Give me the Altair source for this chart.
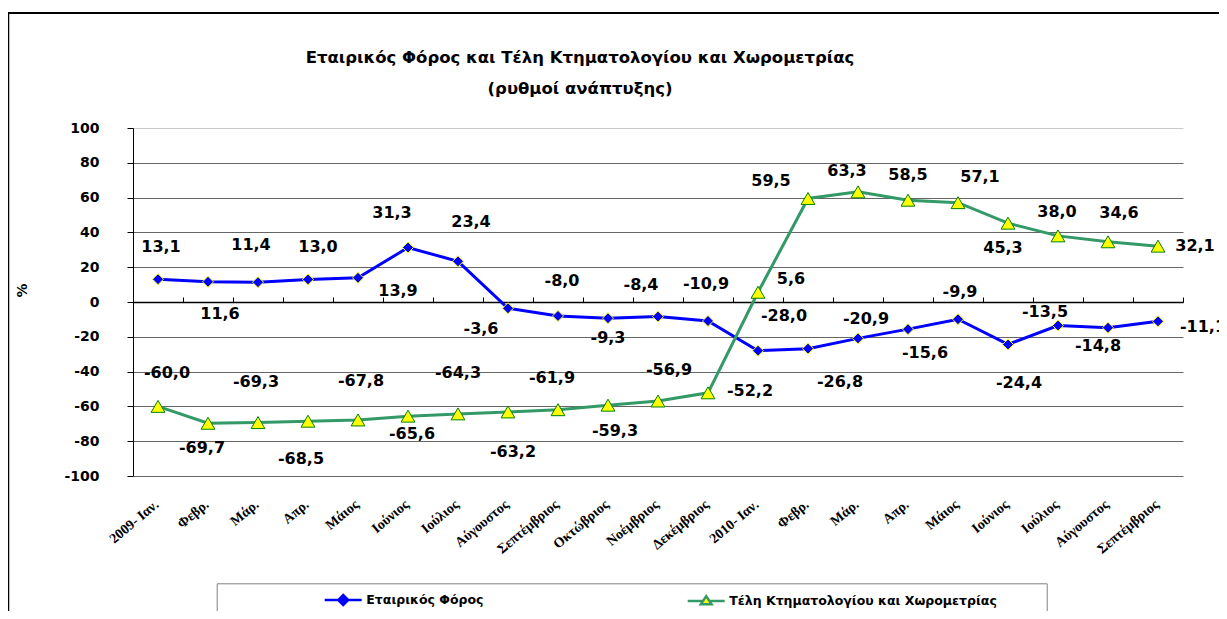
import json
import altair as alt
import pandas as pd

# ---------------- data ----------------
months = ["2009- Ιαν.", "Φεβρ.", "Μάρ.", "Απρ.", "Μάιος", "Ιούνιος", "Ιούλιος",
          "Αύγουστος", "Σεπτέμβριος", "Οκτώβριος", "Νοέμβριος", "Δεκέμβριος",
          "2010- Ιαν.", "Φεβρ.", "Μάρ.", "Απρ.", "Μάιος", "Ιούνιος", "Ιούλιος",
          "Αύγουστος", "Σεπτέμβριος"]
corp_tax = [13.1, 11.6, 11.4, 13.0, 13.9, 31.3, 23.4, -3.6, -8.0, -9.3, -8.4, -10.9,
            -28.0, -26.8, -20.9, -15.6, -9.9, -24.4, -13.5, -14.8, -11.1]
land_fees = [-60.0, -69.7, -69.3, -68.5, -67.8, -65.6, -64.3, -63.2, -61.9, -59.3, -56.9,
             -52.2, 5.6, 59.5, 63.3, 58.5, 57.1, 45.3, 38.0, 34.6, 32.1]
series_names = ["Εταιρικός Φόρος", "Τέλη Κτηματολογίου και Χωρομετρίας"]
y_ticks = [-100, -80, -60, -40, -20, 0, 20, 40, 60, 80, 100]

# label placement (pixel offsets of each value label from its marker)
corp_lbl_dx = [3, 12, -7, 10, 40, -16, 13, -27, 4, 0, -17, -2, 26, 32, 8, 17, 2, 11, -13, -10, 45]
corp_lbl_dy = [-32, 32, -37, -32, 13, -35, -39, 21, -35, 20, -32, -37, -35, 33, -19, 24, -27, 39, -13, 18, 6]
land_lbl_dx = [9, -6, -2, -7, 3, 4, 0, 5, -6, 7, 11, 42, 33, -37, -11, 0, 22, -5, -1, 11, 37]
land_lbl_dy = [-33, 25, -41, 38, -39, 18, -41, 40, -32, 26, -31, -2, -13, -17, -21, -25, -26, 25, -24, -29, 0]

# ---------------- layout ----------------
W, H = 1050, 348
BLUE, GREEN, YELLOW = "#0000FF", "#339966", "#FFFF00"

rows = []
for name, vals, dxs, dys in [(series_names[0], corp_tax, corp_lbl_dx, corp_lbl_dy),
                             (series_names[1], land_fees, land_lbl_dx, land_lbl_dy)]:
    for i, v in enumerate(vals):
        rows.append({"idx": i, "value": v, "series": name,
                     "label": f"{v:.1f}".replace(".", ","), "dx": dxs[i], "dy": dys[i]})
df = pd.DataFrame(rows)

n = len(months)
x_scale = alt.Scale(domain=[-0.5, n - 0.5], nice=False, zero=False)
y_scale = alt.Scale(domain=[-100, 100], nice=False, zero=False)

month_expr = json.dumps(months, ensure_ascii=False) + "[datum.value]"

main_x_axis = alt.Axis(values=list(range(n)), labelExpr=month_expr, labelAngle=-40,
                       labelAlign="right", labelBaseline="top",
                       labelFont="Liberation Serif", labelFontWeight="bold",
                       labelFontSize=14, labelColor="black", labelPadding=21,
                       labelOffset=-6,
                       ticks=False, domain=False, grid=False, title=None,
                       labelOverlap=False, labelFlush=False, labelBound=False)

zero_x_axis = alt.Axis(values=[i - 0.5 for i in range(n + 1)], labels=False,
                       ticks=True, tickSize=5, tickColor="black", tickWidth=1,
                       domain=True, domainColor="black", domainWidth=1.5,
                       grid=False, title=None, offset=-H / 2)

y_axis = alt.Axis(values=y_ticks, labelExpr="'' + datum.value",
                  labelFont="DejaVu Sans", labelFontWeight="bold",
                  labelFontSize=14, labelColor="black", labelPadding=28,
                  tickSize=6, tickColor="black", domainColor="black",
                  grid=True, gridWidth=1,
                  gridColor={"condition": {"test": "datum.value === 100", "value": "#c8c8c8"},
                             "value": "#666666"},
                  title="%", titleFont="DejaVu Sans", titleFontWeight="bold",
                  titleFontSize=14, titleColor="black", titleX=-104, titleY=162)

base = alt.Chart(df)
s0 = f"datum.series === '{series_names[0]}'"
s1 = f"datum.series === '{series_names[1]}'"

blue_line = base.transform_filter(s0).mark_line(color=BLUE, strokeWidth=3).encode(
    x=alt.X("idx:Q", scale=x_scale, axis=main_x_axis),
    y=alt.Y("value:Q", scale=y_scale, axis=y_axis))
green_line = base.transform_filter(s1).mark_line(color=GREEN, strokeWidth=3).encode(
    x=alt.X("idx:Q", scale=x_scale, axis=None),
    y=alt.Y("value:Q", scale=y_scale, axis=y_axis))
blue_pts = base.transform_filter(s0).mark_point(
    shape="diamond", filled=True, fill=BLUE, stroke=YELLOW, strokeWidth=1,
    size=121, opacity=1).encode(
    x=alt.X("idx:Q", scale=x_scale, axis=None),
    y=alt.Y("value:Q", scale=y_scale, axis=y_axis))
green_pts = base.transform_filter(s1).mark_point(
    shape="triangle-up", filled=True, fill=YELLOW, stroke="#008000", strokeWidth=1,
    size=190, opacity=1).encode(
    x=alt.X("idx:Q", scale=x_scale, axis=None),
    y=alt.Y("value:Q", scale=y_scale, axis=y_axis))

labels = base.transform_calculate(
    lx=f"datum.idx + datum.dx * {n / W}",
    ly=f"datum.value - datum.dy * {200 / H}").mark_text(
    font="DejaVu Sans", fontWeight="bold", fontSize=16, color="black",
    align="center", baseline="middle").encode(
    x=alt.X("lx:Q", scale=x_scale, axis=zero_x_axis),
    y=alt.Y("ly:Q", scale=y_scale, axis=y_axis),
    text="label:N")

# legend (symbols: line + marker)
diamond_path = "M-3.7,0H3.7M-1,0L0,-1L1,0L0,1Z"
triangle_path = "M-3.7,0H-0.64M0.64,0H3.7M0,-0.95L1.07,0.65L-1.07,0.65Z"
blank_pad = "\u2800" * 4
legend = alt.Legend(orient="none", legendX=83.7, legendY=455.3, direction="horizontal",
                    title="\u00a0", titleOrient="left", titlePadding=110,
                    padding=10, strokeColor="#808080", fillColor="white",
                    labelFont="DejaVu Sans", labelFontWeight="bold", labelFontSize=12.5,
                    labelColor="black", labelLimit=600, labelOffset=16.6,
                    labelExpr=f"datum.value === '{series_names[1]}' ? datum.label + '{blank_pad}' : datum.label",
                    symbolSize=100, symbolStrokeWidth=2.5, symbolOpacity=1,
                    columnPadding=199)
legend_layer = base.transform_filter("false").mark_point(size=100).encode(
    x=alt.X("idx:Q", scale=x_scale, axis=None),
    y=alt.Y("value:Q", scale=y_scale, axis=y_axis),
    shape=alt.Shape("series:N", scale=alt.Scale(domain=series_names,
                                                range=[diamond_path, triangle_path]),
                    legend=legend),
    fill=alt.Fill("series:N", scale=alt.Scale(domain=series_names, range=[BLUE, YELLOW]),
                  legend=legend),
    stroke=alt.Stroke("series:N", scale=alt.Scale(domain=series_names, range=[BLUE, GREEN]),
                      legend=legend))

frame_top = alt.Chart(pd.DataFrame({"k": [0]})).mark_rule(color="black", strokeWidth=2).encode(
    x=alt.value(-125), x2=alt.value(W + 300), y=alt.value(-115))
frame_left = alt.Chart(pd.DataFrame({"k": [0]})).mark_rule(color="black", strokeWidth=1.5).encode(
    x=alt.value(-124.5), y=alt.value(-115), y2=alt.value(H + 300))

chart = alt.layer(frame_top, frame_left, blue_line, green_line, blue_pts, green_pts,
                  labels, legend_layer).resolve_axis(x="independent").properties(
    width=W, height=H,
    background="white",
    autosize=alt.AutoSizeParams(type="none"),
    padding={"left": 125, "top": 120, "right": 36, "bottom": 135},
    title=alt.TitleParams(text=["Εταιρικός Φόρος και Τέλη Κτηματολογίου και Χωρομετρίας",
                                "(ρυθμοί ανάπτυξης)"],
                          font="DejaVu Sans", fontSize=16.5, fontWeight="bold", color="black",
                          anchor="middle", frame="group", dx=-78, offset=-85, lineHeight=31),
).configure_view(strokeWidth=0, stroke=None)

chart.save("out.html", embed_options={"renderer": "svg", "actions": False})
